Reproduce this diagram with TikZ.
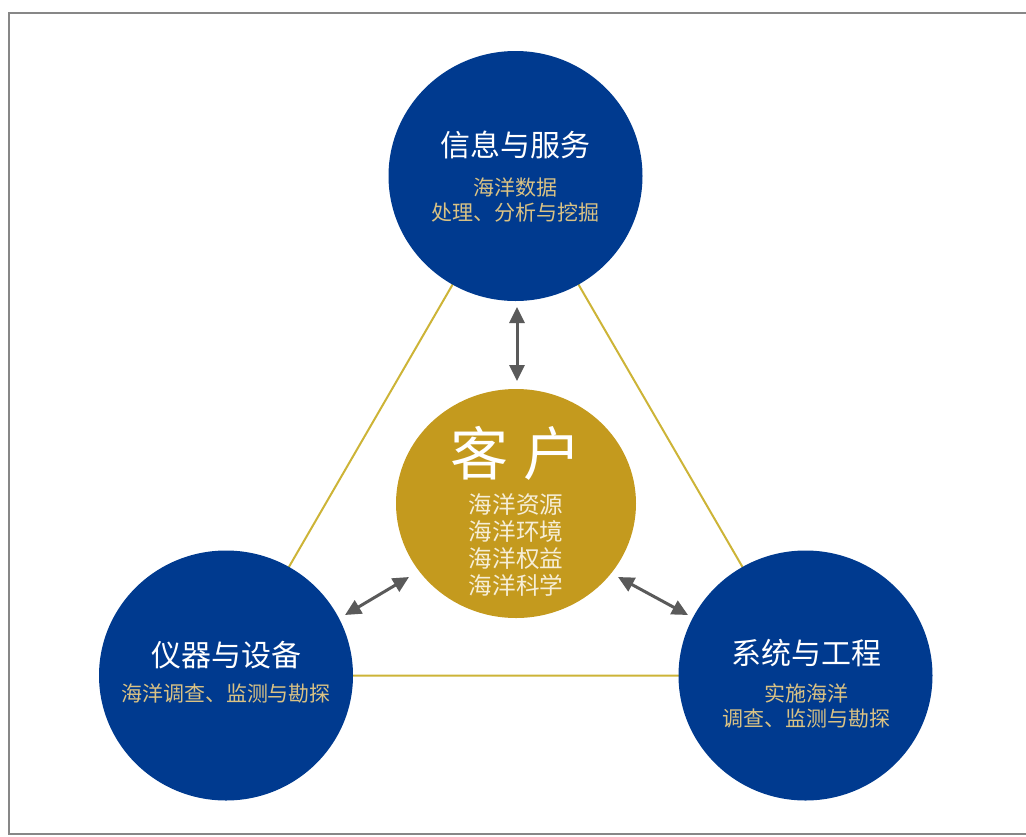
\documentclass[tikz,border=0pt]{standalone}
\usepackage{fontspec}
\setmainfont{Noto Sans CJK SC}
\usetikzlibrary{arrows.meta,shapes.geometric}
\definecolor{navy}{RGB}{0,58,143}
\definecolor{goldc}{RGB}{196,154,30}
\definecolor{lineg}{RGB}{205,180,55}
\definecolor{tan}{RGB}{218,194,132}
\definecolor{cream}{RGB}{246,238,215}
\definecolor{arrowg}{RGB}{90,90,90}
\definecolor{frameg}{RGB}{135,135,135}
\tikzset{
  outer/.style={ellipse,fill=navy,minimum width=254pt,minimum height=250pt,inner sep=0pt},
  inner/.style={ellipse,fill=goldc,minimum width=240pt,minimum height=229pt,inner sep=0pt},
  ttl/.style={text=white,font=\fontsize{30}{36}\selectfont,inner sep=0pt},
  sub/.style={text=tan,font=\fontsize{21}{25}\selectfont,align=center,inner sep=0pt},
  big/.style={text=white,font=\fontsize{58}{60}\selectfont,inner sep=0pt},
  lst/.style={text=cream,font=\fontsize{23.6}{27.3}\selectfont,align=center,inner sep=0pt},
  tri/.style={draw=lineg,line width=2pt},
  dbl/.style={draw=arrowg,line width=3pt,{Triangle[length=16pt,width=15pt]}-{Triangle[length=16pt,width=15pt]}}
}
\begin{document}
\begin{tikzpicture}[x=1pt,y=-1pt]
\useasboundingbox (0,0) rectangle (1026,836);
\draw[frameg,line width=2.8pt] (9,13) rectangle (1040,834);
\coordinate (ct) at (515.5,176);
\coordinate (cl) at (226,675.5);
\coordinate (cr) at (805.5,675.5);
\coordinate (cc) at (516,503.5);
\draw[tri] (ct) -- (cl) -- (cr) -- cycle;
\node[outer] (top) at (ct) {};
\node[outer] (left) at (cl) {};
\node[outer] (right) at (cr) {};
\node[inner] (center) at (cc) {};
% texts
\node[ttl] (toptitle) at (515.5,145) {信息与服务};
\node[sub] (topsub) at (515.5,200) {海洋数据\\处理、分析与挖掘};
\node[big] (ctitle) at (516,453) {客\hspace{16pt}户};
\node[lst] (clist) at (516,545) {海洋资源\\海洋环境\\海洋权益\\海洋科学};
\node[ttl] (ltitle) at (226,655) {仪器与设备};
\node[sub] (lsub) at (226,693) {海洋调查、监测与勘探};
\node[ttl] (rtitle) at (806,653) {系统与工程};
\node[sub] (rsub) at (806,706) {实施海洋\\调查、监测与勘探};
% arrows
\coordinate (a1) at (517,307);
\coordinate (a2) at (517,381);
\coordinate (b1) at (345,615);
\coordinate (b2) at (409,577);
\coordinate (c1) at (618,577);
\coordinate (c2) at (688,615);
\draw[dbl] (a1) -- (a2);
\draw[dbl] (b1) -- (b2);
\draw[dbl] (c1) -- (c2);
\end{tikzpicture}
\end{document}
